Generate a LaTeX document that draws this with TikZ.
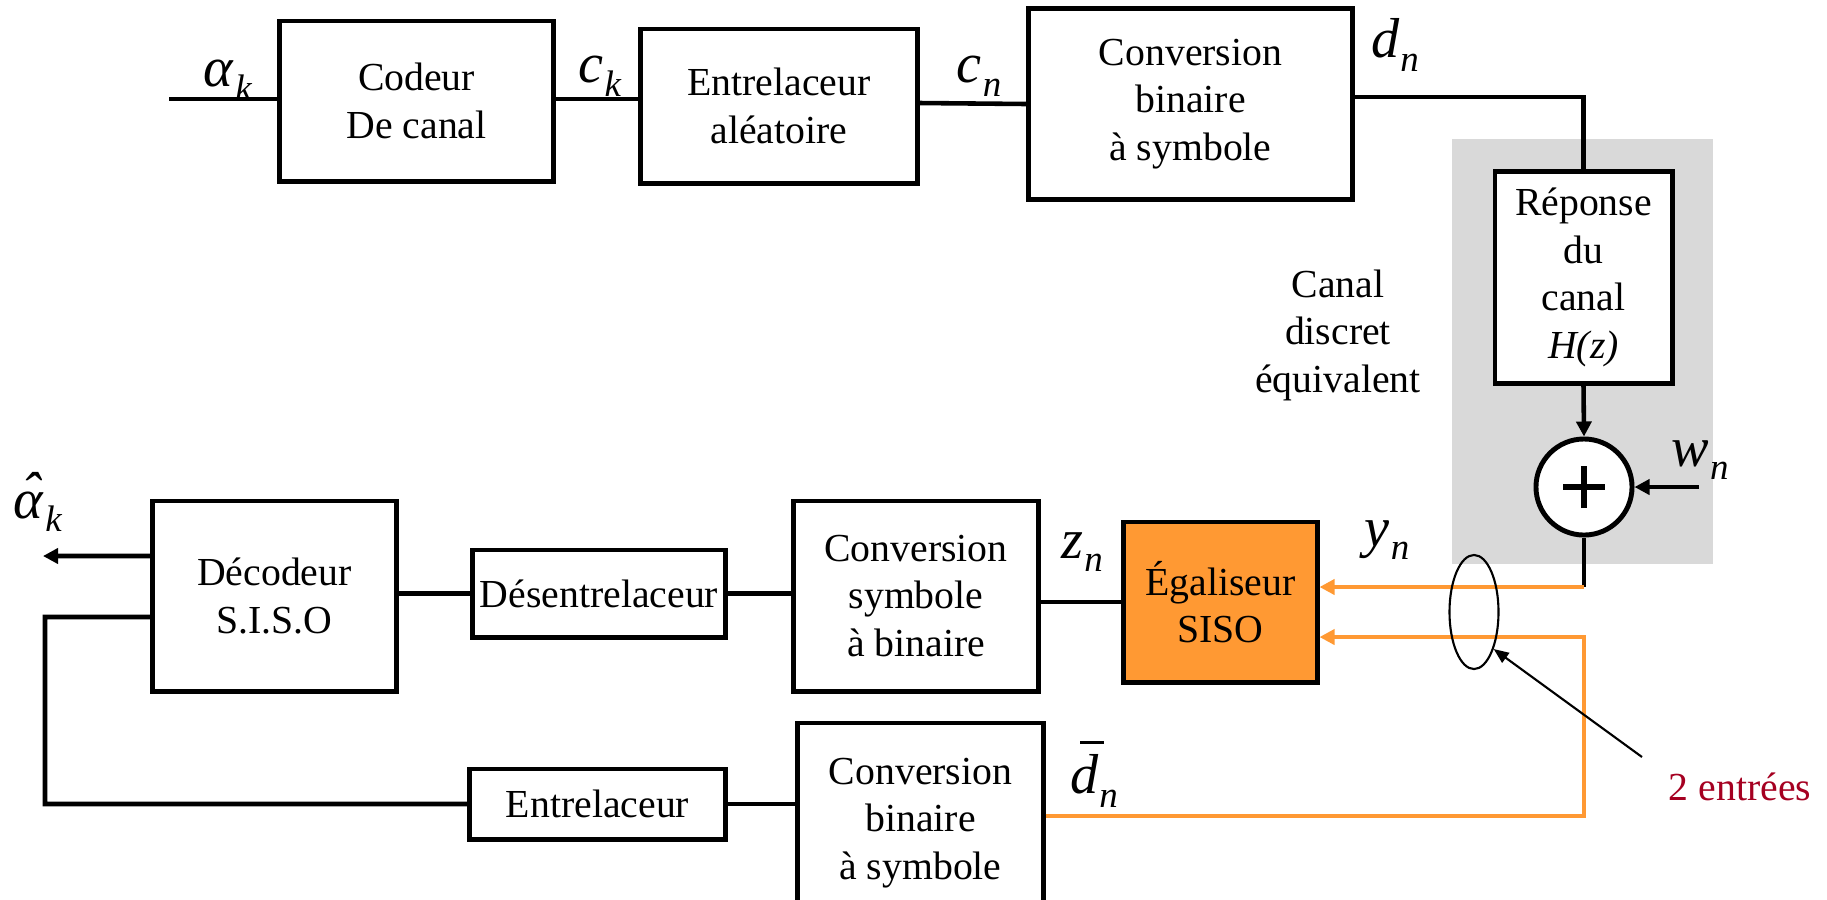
\documentclass[tikz,border=0pt]{standalone}
\usepackage{fontspec}
\setmainfont{Liberation Serif}
\usetikzlibrary{shapes.geometric,arrows.meta,positioning,calc}

\definecolor{egalorange}{RGB}{255,153,51}
\definecolor{canalgray}{RGB}{217,217,217}
\definecolor{notered}{RGB}{165,0,33}

% signal name with a lowered italic index
\newcommand{\sig}[2]{\textit{#1}\kern0.02em\raisebox{-0.24em}{\fontsize{10.5}{10.5}\selectfont\textit{#2}}}
% estimated symbol: circumflex set over the letter
\newcommand{\est}[1]{\rlap{\kern0.14em\raisebox{0.12em}{ˆ}}#1}
% mean symbol: bar set over the letter
\newcommand{\mean}[1]{\rlap{\kern0.18em\rule[0.88em]{0.42em}{0.07em}}#1}

\begin{document}
\begin{tikzpicture}[x=0.01cm, y=-0.01cm,
    block/.style={rectangle, draw, line width=1.4pt, align=center, inner sep=0pt, font=\fontsize{11.3}{13.5}\selectfont},
    wire/.style={line width=1.3pt},
    owire/.style={line width=1.3pt, draw=egalorange},
    arr/.style={-{Triangle[length=0.15cm,width=0.15cm]}},
    lbl/.style={inner sep=0pt, font=\fontsize{16}{16}\selectfont}]
    \useasboundingbox (0,0) rectangle (1827,899);
    \clip (0,0) rectangle (1827,899);

    % discrete equivalent channel
    \fill[canalgray] (1452,139) rectangle (1713,564);

    % emitter chain
    \node[block, minimum width=2.73cm, minimum height=1.60cm] (coder) at (416.5,101) {Codeur\\De canal};
    \node[block, minimum width=2.76cm, minimum height=1.54cm] (entrelAl) at (779,106) {Entrelaceur\\aléatoire};
    \node[block, minimum width=3.23cm, minimum height=1.90cm] (convTop) at (1190.5,104) {Conversion\\binaire\\à symbole};
    \node[block, fill=white, minimum width=1.77cm, minimum height=2.11cm] (reponse) at (1583.5,277.5) {Réponse\\du\\canal\\\textit{H(z)}};
    \node[circle, draw, fill=white, line width=1.4pt, minimum size=0.96cm, inner sep=0pt] (sum) at (1584,487) {};
    \draw[line width=1.6pt] (sum.center) ++(-0.21cm,0) -- ++(0.42cm,0);
    \draw[line width=1.6pt] (sum.center) ++(0,-0.21cm) -- ++(0,0.42cm);
    \node[align=center, font=\fontsize{11.3}{13.5}\selectfont] (canal) at (1338,335) {Canal\\discret\\équivalent};

    % receiver chain
    \node[block, fill=egalorange, minimum width=1.93cm, minimum height=1.60cm] (egal) at (1220.5,602) {Égaliseur\\SISO};
    \node[block, minimum width=2.44cm, minimum height=1.90cm] (convSym) at (916,596) {Conversion\\symbole\\à binaire};
    \node[block, minimum width=2.52cm, minimum height=0.87cm] (desent) at (599,593.5) {Désentrelaceur};
    \node[block, minimum width=2.43cm, minimum height=1.90cm] (decod) at (274.5,596) {Décodeur\\S.I.S.O};
    \node[block, minimum width=2.55cm, minimum height=0.70cm] (entrel) at (597.5,804) {Entrelaceur};
    \node[block, minimum width=2.45cm, minimum height=2.00cm] (convBot) at (920.5,823) {Conversion\\binaire\\à symbole};

    \coordinate (in) at (169,99);
    \coordinate (noise) at (1699,487);
    \coordinate (out) at (43,556);
    \coordinate (fb) at (45,617);
    \coordinate (yin) at ([yshift=0.15cm]egal.east);
    \coordinate (din) at ([yshift=-0.35cm]egal.east);

    \draw[wire] (in) -- (in -| coder.west);
    \draw[wire] (coder.east |- in) -- (in -| entrelAl.west);
    \draw[wire] (entrelAl.east) ++(0,-3) -- (convTop.west);
    \draw[wire] (convTop.east) ++(0,-7) -| (reponse.north);
    \draw[wire, arr] (reponse.south) -- (sum.north);
    \draw[wire, arr] (noise) -- (sum.east);
    \draw[wire] (sum.south) -- (sum.south |- yin);
    \draw[owire, arr] (sum.south |- yin) -- (yin);
    \draw[owire, arr] ([yshift=0.07cm]convBot.east) -| (sum.south |- din) -- (din);
    \draw[wire] (convSym.east |- egal.west) -- (egal.west);
    \draw[wire] (desent.east) -- (desent.east -| convSym.west);
    \draw[wire] (decod.east |- desent.west) -- (desent.west);
    \draw[wire, arr] ([yshift=0.4cm]decod.west) -- (out);
    \draw[wire] ([yshift=-0.21cm]decod.west) -- (fb) |- (entrel.west);
    \draw[wire] (entrel.east) -- (entrel.east -| convBot.west);

    % signal names
    \node[lbl] (ak) at (228,80) {\sig{α}{k}};
    \node[lbl] (ck) at (600,76) {\sig{c}{k}};
    \node[lbl] (cn) at (979,76) {\sig{c}{n}};
    \node[lbl] (dn) at (1395,45) {\sig{d}{n}};
    \node[lbl] (wn) at (1700,460) {\sig{w}{n}};
    \node[lbl] (yn) at (1387,540) {\sig{y}{n}};
    \node[lbl] (zn) at (1082,552) {\sig{z}{n}};
    \node[lbl] (dbn) at (1094,774) {\sig{\mean{d}}{n}};
    \node[lbl] (ahk) at (38,502) {\sig{\est{α}}{k}};

    % the two equalizer inputs
    \node[ellipse, draw, line width=0.6pt, minimum width=0.49cm, minimum height=1.14cm, inner sep=0pt] (grp) at (1474,612) {};
    \node[text=notered, font=\fontsize{11.3}{13.5}\selectfont] (note) at (1740,787) {2 entrées};
    \coordinate (tail) at (1642,757);
    \draw[line width=0.6pt, -{Triangle[length=0.15cm,width=0.12cm]}] (tail) -- (grp.-62);
\end{tikzpicture}
\end{document}
